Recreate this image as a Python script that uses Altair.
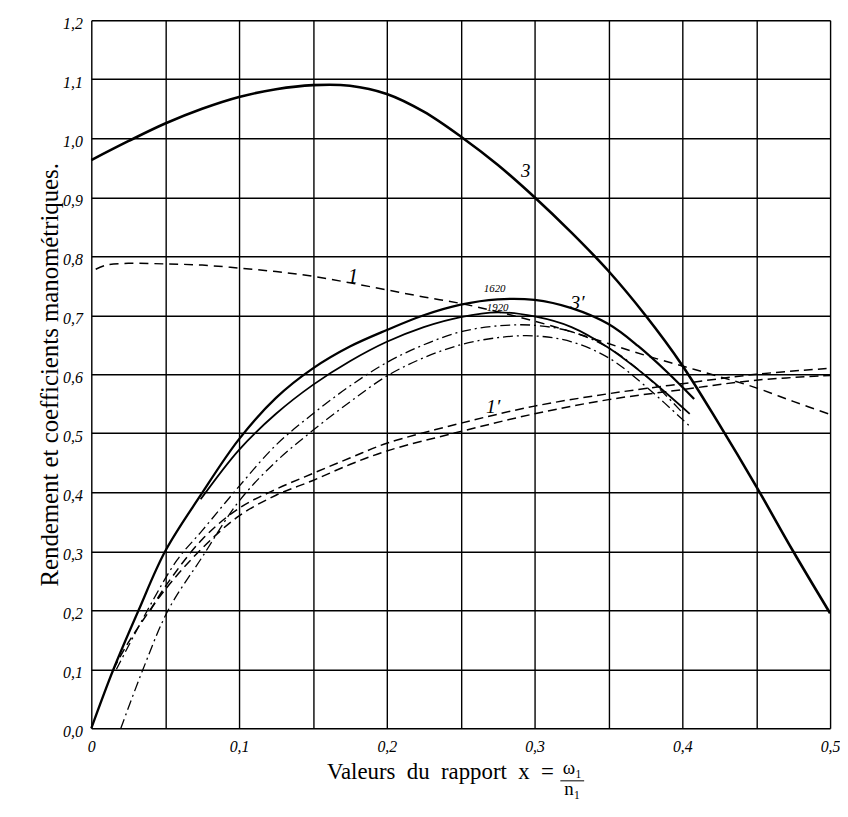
import altair as alt
import pandas as pd

# ---------------- data ----------------
# curve 3 (thick solid)
x_c3 = [0, 0.025, 0.05, 0.075, 0.1, 0.125, 0.15, 0.175, 0.2, 0.225, 0.25, 0.275,
        0.3, 0.325, 0.35, 0.375, 0.4, 0.425, 0.45, 0.475, 0.5]
y_c3 = [0.963, 0.995, 1.025, 1.05, 1.07, 1.083, 1.09, 1.089, 1.075, 1.045, 1.003, 0.955,
        0.9, 0.84, 0.775, 0.70, 0.615, 0.515, 0.41, 0.30, 0.195]

# curve 1 (dashed, top)
x_c1 = [0.003, 0.01, 0.025, 0.05, 0.075, 0.1, 0.125, 0.15, 0.175, 0.2, 0.225, 0.25,
        0.275, 0.3, 0.325, 0.35, 0.375, 0.4, 0.425, 0.45, 0.475, 0.5]
y_c1 = [0.778, 0.785, 0.788, 0.787, 0.785, 0.78, 0.774, 0.766, 0.755, 0.743, 0.731, 0.72,
        0.706, 0.69, 0.672, 0.652, 0.632, 0.614, 0.596, 0.577, 0.554, 0.532]

# curve 3' at 1620 (solid)
x_c3p_1620 = [0, 0.015, 0.032, 0.05, 0.074, 0.1, 0.125, 0.15, 0.175, 0.2, 0.225, 0.25,
              0.275, 0.3, 0.325, 0.35, 0.37, 0.39, 0.408]
y_c3p_1620 = [0, 0.1, 0.2, 0.3, 0.395, 0.49, 0.56, 0.61, 0.647, 0.675, 0.7, 0.718,
              0.727, 0.726, 0.712, 0.685, 0.648, 0.603, 0.558]

# curve 3' at 1920 (solid)
x_c3p_1920 = [0.074, 0.1, 0.125, 0.15, 0.175, 0.2, 0.225, 0.25, 0.275, 0.3, 0.325,
              0.35, 0.375, 0.405]
y_c3p_1920 = [0.388, 0.472, 0.533, 0.582, 0.622, 0.655, 0.68, 0.697, 0.705, 0.698, 0.68,
              0.645, 0.598, 0.533]

# dash-dot curves
x_dd_up = [0.017, 0.038, 0.058, 0.075, 0.1, 0.125, 0.15, 0.175, 0.2, 0.225, 0.25, 0.275,
           0.3, 0.325, 0.35, 0.375, 0.4]
y_dd_up = [0.1, 0.2, 0.285, 0.335, 0.41, 0.48, 0.533, 0.58, 0.62, 0.65, 0.672, 0.682,
           0.683, 0.672, 0.645, 0.598, 0.535]
x_dd_lo = [0.02, 0.035, 0.052, 0.075, 0.1, 0.125, 0.15, 0.175, 0.2, 0.225, 0.25, 0.275,
           0.3, 0.325, 0.35, 0.375, 0.405]
y_dd_lo = [0.0, 0.1, 0.2, 0.29, 0.385, 0.452, 0.505, 0.553, 0.597, 0.628, 0.65, 0.662,
           0.665, 0.655, 0.628, 0.58, 0.512]

# curves 1' (dashed, rising)
x_c1p_up = [0.04, 0.05, 0.075, 0.1, 0.125, 0.15, 0.175, 0.2, 0.25, 0.3, 0.35, 0.4, 0.45, 0.5]
y_c1p_up = [0.2, 0.24, 0.32, 0.373, 0.405, 0.432, 0.458, 0.483, 0.517, 0.546, 0.567,
            0.584, 0.6, 0.61]
x_c1p_lo = [0.015, 0.025, 0.05, 0.075, 0.1, 0.125, 0.15, 0.175, 0.2, 0.25, 0.3, 0.35,
            0.4, 0.45, 0.5]
y_c1p_lo = [0.1, 0.145, 0.235, 0.305, 0.36, 0.395, 0.42, 0.447, 0.47, 0.503, 0.533,
            0.557, 0.574, 0.59, 0.598]

# curve annotations
lbl_text = ["3", "1", "3′", "1′", "1620", "1920"]
lbl_x = [0.294, 0.177, 0.329, 0.272, 0.273, 0.275]
lbl_y = [0.945, 0.765, 0.72, 0.545, 0.744, 0.713]
lbl_size = [19, 21, 20, 20, 11, 11]

x_ticks = [round(i * 0.05, 2) for i in range(11)]
y_ticks = [round(i * 0.1, 1) for i in range(13)]

# ---------------- chart ----------------
W, H = 745, 714
SERIF = "Liberation Serif"

xscale = alt.Scale(domain=[0, 0.5], nice=False, zero=False)
yscale = alt.Scale(domain=[0, 1.2], nice=False, zero=False)

GRID = dict(grid=True, gridColor="black", gridWidth=1.4, gridOpacity=1,
            ticks=False, domain=False, labelColor="black",
            labelFont=SERIF, labelFontStyle="italic", labelFontSize=16)

xaxis = alt.Axis(values=x_ticks,
                 labelExpr="round(datum.value*100) % 10 == 0 ? (datum.value == 0 ? '0' : replace(format(datum.value, '.1f'), '.', ',')) : ''",
                 labelPadding=10, labelFlush=False, labelOverlap=False,
                 title="Valeurs\u2002du\u2002rapport\u2002x\u2002=", titleFont=SERIF,
                 titleFontSize=23, titleFontWeight="normal", titleColor="black",
                 titleX=466, titleY=51, titleAlign="right", titleBaseline="alphabetic",
                 **GRID)
yaxis = alt.Axis(values=y_ticks,
                 labelExpr="replace(format(datum.value, '.1f'), '.', ',')",
                 labelPadding=9, labelOffset=3, labelFlush=False, labelOverlap=False,
                 title="Rendement et coefficients manométriques.", titleFont=SERIF,
                 titleFontSize=25, titleFontWeight="normal", titleColor="black",
                 titleX=-42, titleY=H / 2, titleAngle=270, titleAlign="center",
                 titleBaseline="middle",
                 **GRID)


def curve(xs, ys, width, dash=None):
    df = pd.DataFrame({"x": xs, "y": ys})
    kw = dict(color="black", strokeWidth=width, interpolate="catmull-rom")
    if dash:
        kw["strokeDash"] = dash
    return alt.Chart(df).mark_line(**kw).encode(
        x=alt.X("x:Q", scale=xscale, axis=xaxis),
        y=alt.Y("y:Q", scale=yscale, axis=yaxis),
    )


layers = [
    curve(x_c3, y_c3, 2.6),
    curve(x_c1, y_c1, 1.5, [9, 6]),
    curve(x_c3p_1620, y_c3p_1620, 2.3),
    curve(x_c3p_1920, y_c3p_1920, 1.8),
    curve(x_dd_up, y_dd_up, 1.3, [10, 4, 2, 4]),
    curve(x_dd_lo, y_dd_lo, 1.3, [10, 4, 2, 4]),
    curve(x_c1p_up, y_c1p_up, 1.5, [9, 5]),
    curve(x_c1p_lo, y_c1p_lo, 1.5, [9, 5]),
]

lbl_df = pd.DataFrame({"x": lbl_x, "y": lbl_y, "t": lbl_text, "s": lbl_size})
labels = alt.Chart(lbl_df).mark_text(
    font=SERIF, fontStyle="italic", color="black", baseline="middle"
).encode(
    x=alt.X("x:Q", scale=xscale, axis=xaxis),
    y=alt.Y("y:Q", scale=yscale, axis=yaxis),
    text="t:N",
    size=alt.Size("s:Q", scale=None, legend=None),
)

# fraction omega_1 / n_1 of the x axis title
frac_df = pd.DataFrame({"t": ["ω₁", "n₁"], "py": [H + 46, H + 67]})
frac_text = alt.Chart(frac_df).mark_text(
    font=SERIF, fontSize=19, color="black", baseline="alphabetic", align="center"
).encode(x=alt.value(485), y=alt.Y("py:Q", scale=None), text="t:N")
frac_bar = alt.Chart(pd.DataFrame({"a": [0]})).mark_rule(color="black", strokeWidth=1).encode(
    x=alt.value(473), x2=alt.value(497), y=alt.value(H + 53)
)

chart = alt.layer(*layers, labels, frac_text, frac_bar).properties(
    width=W, height=H,
    autosize=alt.AutoSizeParams(type="none"),
    padding={"left": 84, "top": 9, "right": 10, "bottom": 72},
).configure_view(stroke="black", strokeWidth=1.5).configure(background="white")

chart.save("out.html", embed_options={"renderer": "svg", "actions": False})
